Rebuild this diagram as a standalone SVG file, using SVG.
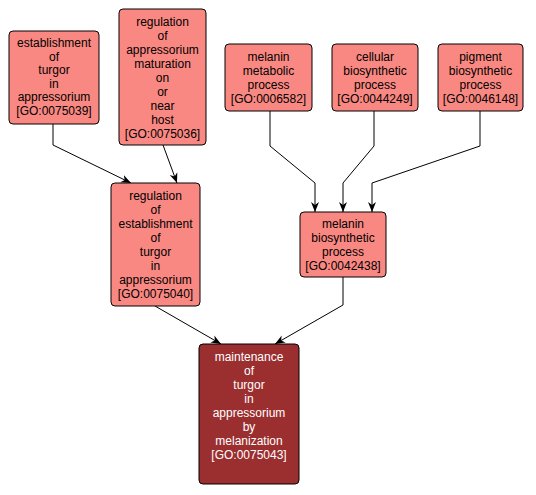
<svg xmlns="http://www.w3.org/2000/svg" width="536" height="495" viewBox="0 0 536 495">
<defs>
<style>
.n rect{fill:#fa8882;stroke:#000;stroke-width:1}
.d rect{fill:#9b2e2f;stroke:#000;stroke-width:1}
text{font-family:"Liberation Sans",Arial,sans-serif;font-size:12px;text-anchor:middle;fill:#000}
.d text{fill:#fff}
.e path{fill:none;stroke:#000;stroke-width:1}
</style>
<marker id="ah" viewBox="0 0 10 10" refX="10" refY="5" markerWidth="10" markerHeight="10" markerUnits="userSpaceOnUse" orient="auto">
<path d="M0,1 L10,5 L0,9 L3,5 Z" fill="#000"/>
</marker>
</defs>
<rect width="536" height="495" fill="#fff"/>
<g class="e" id="edges">
<path d="M53,124 L53,145 L131,183" marker-end="url(#ah)"/>
<path d="M163,145 L177,183" marker-end="url(#ah)"/>
<path d="M155,306 L221,344" marker-end="url(#ah)"/>
<path d="M343,277 L343,305 L275,344" marker-end="url(#ah)"/>
<path d="M270,111 L270,146 L315,183 L315,212" marker-end="url(#ah)"/>
<path d="M374,111 L374,146 L343,183 L343,212" marker-end="url(#ah)"/>
<path d="M480,111 L480,146 L372,183 L372,212" marker-end="url(#ah)"/>
</g>
<g class="n" id="GO0075039">
<rect x="9" y="31" width="90" height="93" rx="4"/>
<text x="54" y="47">establishment<tspan x="54" dy="13.6">of</tspan><tspan x="54" dy="13.6">turgor</tspan><tspan x="54" dy="13.6">in</tspan><tspan x="54" dy="13.6">appressorium</tspan><tspan x="54" dy="13.6">[GO:0075039]</tspan></text>
</g>
<g class="n" id="GO0075036">
<rect x="119" y="9" width="87" height="136" rx="4"/>
<text x="162.5" y="26">regulation<tspan x="162.5" dy="14">of</tspan><tspan x="162.5" dy="14">appressorium</tspan><tspan x="162.5" dy="14">maturation</tspan><tspan x="162.5" dy="14">on</tspan><tspan x="162.5" dy="14">or</tspan><tspan x="162.5" dy="14">near</tspan><tspan x="162.5" dy="14">host</tspan><tspan x="162.5" dy="14">[GO:0075036]</tspan></text>
</g>
<g class="n" id="GO0006582">
<rect x="225" y="44" width="87" height="67" rx="4"/>
<text x="268.5" y="61">melanin<tspan x="268.5" dy="14">metabolic</tspan><tspan x="268.5" dy="14">process</tspan><tspan x="268.5" dy="14">[GO:0006582]</tspan></text>
</g>
<g class="n" id="GO0044249">
<rect x="332" y="44" width="86" height="67" rx="4"/>
<text x="375" y="61">cellular<tspan x="375" dy="14">biosynthetic</tspan><tspan x="375" dy="14">process</tspan><tspan x="375" dy="14">[GO:0044249]</tspan></text>
</g>
<g class="n" id="GO0046148">
<rect x="438" y="44" width="85" height="67" rx="4"/>
<text x="480.5" y="61">pigment<tspan x="480.5" dy="14">biosynthetic</tspan><tspan x="480.5" dy="14">process</tspan><tspan x="480.5" dy="14">[GO:0046148]</tspan></text>
</g>
<g class="n" id="GO0075040">
<rect x="111" y="183" width="89" height="123" rx="4"/>
<text x="155.5" y="200">regulation<tspan x="155.5" dy="14">of</tspan><tspan x="155.5" dy="14">establishment</tspan><tspan x="155.5" dy="14">of</tspan><tspan x="155.5" dy="14">turgor</tspan><tspan x="155.5" dy="14">in</tspan><tspan x="155.5" dy="14">appressorium</tspan><tspan x="155.5" dy="14">[GO:0075040]</tspan></text>
</g>
<g class="n" id="GO0042438">
<rect x="300" y="212" width="86" height="65" rx="4"/>
<text x="343" y="228">melanin<tspan x="343" dy="14">biosynthetic</tspan><tspan x="343" dy="14">process</tspan><tspan x="343" dy="14">[GO:0042438]</tspan></text>
</g>
<g class="d" id="GO0075043">
<rect x="199" y="344" width="100" height="140" rx="4"/>
<text x="249" y="361">maintenance<tspan x="249" dy="14">of</tspan><tspan x="249" dy="14">turgor</tspan><tspan x="249" dy="14">in</tspan><tspan x="249" dy="14">appressorium</tspan><tspan x="249" dy="14">by</tspan><tspan x="249" dy="14">melanization</tspan><tspan x="249" dy="14">[GO:0075043]</tspan></text>
</g>
</svg>
